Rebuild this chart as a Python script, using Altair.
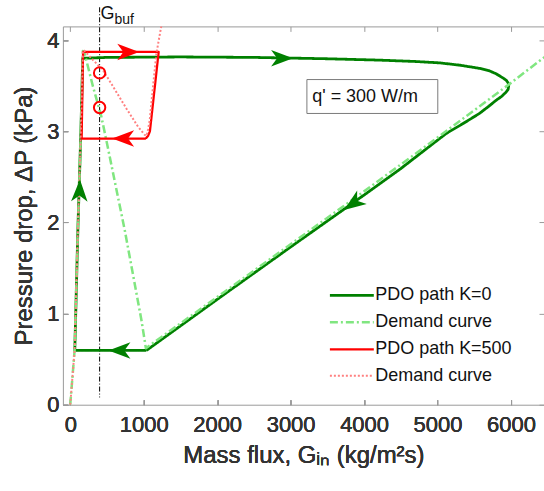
import altair as alt
import pandas as pd

# ---- series (mass flux G in kg/m2s, pressure drop P in kPa) ----
# PDO path, K = 0 (closed loop, drawn in order)
path0_G = [1037, 62, 105, 145, 170, 500, 1500, 2500, 3500, 4211, 4700, 5030, 5300,
           5571, 5700, 5799, 5880, 5935, 5962, 5970, 5962, 5935, 5870, 5799, 5700,
           5571, 5350, 5118, 4500, 4000, 3000, 2000, 1037]
path0_P = [0.595, 0.595, 1.95, 3.0, 3.80, 3.81, 3.815, 3.81, 3.795, 3.78, 3.765, 3.75, 3.725,
           3.69, 3.665, 3.63, 3.59, 3.56, 3.53, 3.50, 3.46, 3.43, 3.38, 3.34, 3.275,
           3.195, 3.085, 2.975, 2.59, 2.30, 1.73, 1.155, 0.595]

# Demand curve, K = 0
dem0_G = [0, 30, 60, 105, 145, 172, 197, 310, 424, 492, 741, 969, 1030,
          2000, 3000, 4000, 5000, 5500, 6000, 6500]
dem0_P = [0.0, 0.3, 0.6, 1.95, 3.0, 3.88, 3.85, 3.49, 3.16, 2.90, 1.92, 0.93, 0.62,
          1.18, 1.76, 2.34, 2.93, 3.23, 3.53, 3.84]

# PDO path, K = 500 (closed loop)
path5_G = [1030, 155, 175, 1204, 1085, 1060, 1030]
path5_P = [2.92, 2.92, 3.87, 3.87, 3.00, 2.95, 2.92]

# Demand curve, K = 500
dem5_G = [0, 30, 60, 105, 145, 172, 185, 288, 446, 583, 764, 923, 1014, 1040,
          1060, 1082, 1127, 1173, 1210, 1255]
dem5_P = [0.0, 0.3, 0.6, 1.95, 3.0, 3.87, 3.89, 3.80, 3.67, 3.49, 3.25, 3.05, 2.96, 2.95,
          3.02, 3.12, 3.49, 3.85, 4.02, 4.22]

series_names = ["PDO path K=0", "Demand curve", "PDO path K=500", "Demand curve "]
series_colors = ["#008000", "#80e680", "#ff0000", "#ff8080"]
series_dash = [[1, 0], [8, 3, 2, 3], [1, 0], [2, 2]]
series_width = [2.8, 2.0, 2.8, 1.8]

# direction arrows along the paths
arrow_G = [2884, 3850, 670, 128, 790, 720]
arrow_P = [3.80, 2.205, 0.595, 2.35, 3.87, 2.92]
arrow_angle = [0, 144.5, 180, 271.6, 0, 180]
arrow_color = ["#008000", "#008000", "#008000", "#008000", "#ff0000", "#ff0000"]

# operating points marked on the buffer line
circle_G = [400, 400]
circle_P = [3.64, 3.26]

# buffer mass flux line and its label
G_buf = 400
gbuf_P = [4.36, 0.08]
gbuf_label_P = 4.235

# heat-rate annotation box
box_G = [3222, 5004]
box_P = [3.567, 3.195]
box_text = "q' = 300 W/m"
box_text_G = 4014
box_text_P = 3.377

x_ticks = [0, 1000, 2000, 3000, 4000, 5000, 6000]
y_ticks = [0, 1, 2, 3, 4]
x_domain = [-100, 6450]
y_domain = [0, 4.15]

FONT = "Liberation Sans"
AX = "#333333"
FRAME = "#9a9a9a"

rows = []
for name, gs, ps in zip(series_names, [path0_G, dem0_G, path5_G, dem5_G],
                        [path0_P, dem0_P, path5_P, dem5_P]):
    for i, (g, p) in enumerate(zip(gs, ps)):
        rows.append({"G": g, "P": p, "series": name, "ord": i})
curves = pd.DataFrame(rows)

xs = alt.Scale(domain=x_domain, nice=False, zero=False)
ys = alt.Scale(domain=y_domain, nice=False, zero=False)

legend = alt.Legend(
    orient="none", legendX=278, legendY=258, title=None, padding=0,
    symbolType="M-2.2,0L2.2,0", symbolSize=400, labelOffset=12,
    labelFont=FONT, labelFontSize=18, labelColor="#111111", rowPadding=6,
    symbolStrokeWidth=2,
)
color = alt.Color("series:N", scale=alt.Scale(domain=series_names, range=series_colors), legend=legend)
dash = alt.StrokeDash("series:N", scale=alt.Scale(domain=series_names, range=series_dash), legend=legend)
width = alt.StrokeWidth("series:N", scale=alt.Scale(domain=series_names, range=series_width), legend=legend)

x_axis_main = alt.Axis(
    values=x_ticks, orient="bottom", offset=-5, tickSize=5, domain=False, grid=False,
    title="Mass flux, G\u1d62\u2099 (kg/m\u00b2s)", labelFont=FONT, titleFont=FONT,
    labelFontSize=22, titleFontSize=24, titleFontWeight=400, labelFontWeight=400,
    labelColor=AX, titleColor=AX, tickColor=FRAME, labelPadding=10, titlePadding=8,
    labelFlush=False, labelOverlap=False, format="d",
)
y_axis_main = alt.Axis(
    values=y_ticks, orient="left", offset=-5, tickSize=5, domain=False, grid=False,
    title="Pressure drop, \u0394P (kPa)", labelFont=FONT, titleFont=FONT,
    labelFontSize=22, titleFontSize=24, titleFontWeight=400, labelFontWeight=400,
    labelColor=AX, titleColor=AX, tickColor=FRAME, labelPadding=4, titlePadding=10,
    labelFlush=False, labelOverlap=False, format="d",
)
x_axis_top = alt.Axis(values=x_ticks, orient="top", offset=-5, tickSize=5, domain=False,
                      grid=False, labels=False, title=None, tickColor=FRAME)
y_axis_right = alt.Axis(values=y_ticks, orient="right", offset=-5, tickSize=5, domain=False,
                        grid=False, labels=False, title=None, tickColor=FRAME)

base = alt.Chart(curves).mark_line(clip=True, strokeCap="butt", strokeJoin="round").encode(
    x=alt.X("G:Q", scale=xs, axis=x_axis_main),
    y=alt.Y("P:Q", scale=ys, axis=y_axis_main),
    order=alt.Order("ord:Q"),
    color=color, strokeDash=dash, strokeWidth=width,
)
layers = [base.transform_filter(alt.datum.series == s) for s in series_names]

# buffer line and its label
gbuf_df = pd.DataFrame({"G": [G_buf], "P1": [gbuf_P[0]], "P2": [gbuf_P[1]], "PL": [gbuf_label_P]})
gbuf_rule = alt.Chart(gbuf_df).mark_rule(color="#000000", strokeWidth=1, strokeDash=[5, 2, 1, 2]).encode(
    x=alt.X("G:Q", scale=xs, axis=None),
    y=alt.Y("P1:Q", scale=ys, axis=None),
    y2="P2:Q",
)
gbuf_G = alt.Chart(gbuf_df).mark_text(text="G", font=FONT, fontSize=18, align="left",
                                      baseline="alphabetic", dx=1, color="#111111").encode(
    x=alt.X("G:Q", scale=xs, axis=None), y=alt.Y("PL:Q", scale=ys, axis=None))
gbuf_sub = alt.Chart(gbuf_df).mark_text(text="buf", font=FONT, fontSize=14, align="left",
                                        baseline="alphabetic", dx=15, dy=5, color="#111111").encode(
    x=alt.X("G:Q", scale=xs, axis=None), y=alt.Y("PL:Q", scale=ys, axis=None))

# annotation box
box_df = pd.DataFrame({"G1": [box_G[0]], "G2": [box_G[1]], "P1": [box_P[0]], "P2": [box_P[1]],
                       "Gt": [box_text_G], "Pt": [box_text_P], "t": [box_text]})
box = alt.Chart(box_df).mark_rect(fill="#ffffff", stroke="#7a7a7a", strokeWidth=1).encode(
    x=alt.X("G1:Q", scale=xs, axis=None), x2="G2:Q",
    y=alt.Y("P1:Q", scale=ys, axis=None), y2="P2:Q")
box_txt = alt.Chart(box_df).mark_text(font=FONT, fontSize=18, align="center", baseline="middle",
                                      color="#111111").encode(
    x=alt.X("Gt:Q", scale=xs, axis=None), y=alt.Y("Pt:Q", scale=ys, axis=None), text="t:N")

# circles
circ_df = pd.DataFrame({"G": circle_G, "P": circle_P})
circles = alt.Chart(circ_df).mark_point(shape="circle", filled=False, size=130, stroke="#ff0000",
                                        strokeWidth=2, opacity=1).encode(
    x=alt.X("G:Q", scale=xs, axis=None), y=alt.Y("P:Q", scale=ys, axis=None))

# arrowheads (also carries the top and right tick axes)
arr_df = pd.DataFrame({"G": arrow_G, "P": arrow_P, "a": arrow_angle, "c": arrow_color})
arrows = alt.Chart(arr_df).mark_point(
    shape="M1,0L-1,-0.75L-0.45,0L-1,0.75Z", filled=True, size=484, opacity=1, strokeWidth=0.5
).encode(
    x=alt.X("G:Q", scale=xs, axis=x_axis_top),
    y=alt.Y("P:Q", scale=ys, axis=y_axis_right),
    angle=alt.Angle("a:Q", scale=None),
    color=alt.Color("c:N", scale=None, legend=None),
)

chart = alt.layer(
    box, box_txt, gbuf_rule, *layers, circles, arrows, gbuf_G, gbuf_sub
).resolve_axis(x="independent", y="independent").properties(
    width=482, height=379,
    autosize=alt.AutoSizeParams(type="none"),
    padding={"left": 63, "top": 26, "right": 0, "bottom": 86},
    background="#ffffff",
).configure_view(stroke=FRAME, strokeWidth=1)

chart.save("out.html", embed_options={"renderer": "svg", "actions": False})
